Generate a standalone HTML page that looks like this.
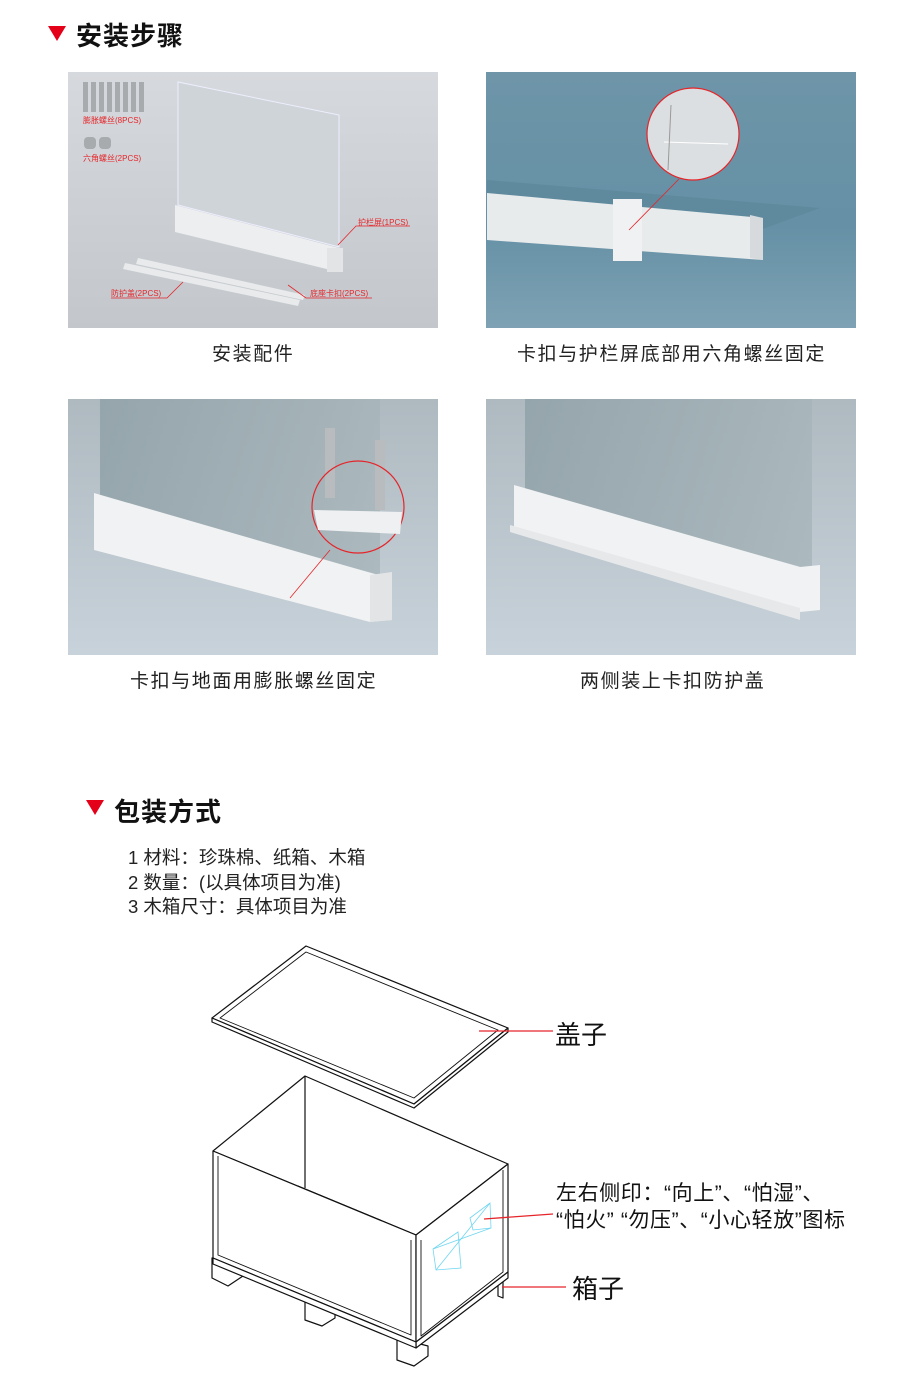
<!DOCTYPE html>
<html><head><meta charset="utf-8"><style>
body{margin:0;width:920px;height:1384px;background:#fff;position:relative;overflow:hidden;font-family:"Liberation Sans","Noto Sans CJK SC",sans-serif;color:#222}
.t{position:absolute;white-space:nowrap}
.h{font-size:26px;font-weight:bold;color:#111;letter-spacing:1px}
.cap{font-size:19px;color:#222;letter-spacing:1.6px}
.tri{position:absolute;width:0;height:0;border-left:9px solid transparent;border-right:9px solid transparent;border-top:15px solid #e5001a}
svg{position:absolute;left:0;top:0}
</style></head><body>
<div class="tri" style="left:48px;top:26px"></div>
<div class="t h" style="left:76px;top:16px">安装步骤</div>

<svg width="920" height="1384" viewBox="0 0 920 1384">
<defs>
<linearGradient id="g1" x1="0" y1="0" x2="0" y2="1"><stop offset="0" stop-color="#d6d9dd"/><stop offset="1" stop-color="#c3c7cb"/></linearGradient>
<linearGradient id="g2" x1="0" y1="0" x2="0" y2="1"><stop offset="0" stop-color="#6e95a8"/><stop offset="0.6" stop-color="#6590a5"/><stop offset="1" stop-color="#7ea2b4"/></linearGradient>
<linearGradient id="g3" x1="0" y1="0" x2="0" y2="1"><stop offset="0" stop-color="#aeb9c0"/><stop offset="1" stop-color="#c8d2da"/></linearGradient>
<linearGradient id="gl" x1="0" y1="0" x2="1" y2="0"><stop offset="0" stop-color="#8ea0a6"/><stop offset="1" stop-color="#a7b5ba"/></linearGradient>
</defs>
<rect x="68" y="72" width="370" height="256" fill="url(#g1)"/>
<polygon points="178,82 339,115 339,247 178,205" fill="#cfd4d8" stroke="#eef" stroke-width="1"/>
<polygon points="175,205 339,248 339,272 175,232" fill="#eceeef"/>
<rect x="327" y="248" width="16" height="24" fill="#e2e4e6"/>
<polygon points="125,263 300,300 298,306 123,269" fill="#e8eaec"/>
<polygon points="138,258 305,295 303,300 136,264" fill="#e8eaec"/>
<g fill="#a8abad"><rect x="83" y="82" width="5" height="30"/><rect x="91" y="82" width="5" height="30"/><rect x="99" y="82" width="5" height="30"/><rect x="107" y="82" width="5" height="30"/><rect x="115" y="82" width="5" height="30"/><rect x="123" y="82" width="5" height="30"/><rect x="131" y="82" width="5" height="30"/><rect x="139" y="82" width="5" height="30"/><rect x="84" y="137" width="12" height="12" rx="4"/><rect x="99" y="137" width="12" height="12" rx="4"/></g>
<g font-size="8" fill="#e5252a" font-family="Liberation Sans,Noto Sans CJK SC,sans-serif"><text x="83" y="123">膨胀螺丝(8PCS)</text><text x="83" y="161">六角螺丝(2PCS)</text><text x="358" y="225">护栏屏(1PCS)</text><text x="111" y="296">防护盖(2PCS)</text><text x="310" y="296">底座卡扣(2PCS)</text></g>
<g stroke="#e5252a" stroke-width="0.8" fill="none"><polyline points="410,226 356,226 338,245"/><polyline points="111,298 167,298 183,282"/><polyline points="372,298 306,298 288,285"/></g>
<rect x="486" y="72" width="370" height="256" fill="url(#g2)"/>
<polygon points="487,180 820,208 760,230 487,198" fill="#5f8a9e"/>
<polygon points="487,193 763,218 763,260 487,240" fill="#e8ebec"/>
<polygon points="750,215 763,218 763,260 750,258" fill="#d6dadc"/>
<rect x="613" y="199" width="29" height="62" fill="#f0f1f2"/>
<circle cx="693" cy="134" r="46" fill="#dcdfe1" stroke="#e5252a" stroke-width="1.2"/>
<line x1="664" y1="142" x2="728" y2="144" stroke="#fff"/>
<line x1="671" y1="105" x2="668" y2="170" stroke="#999"/>
<line x1="679" y1="179" x2="629" y2="230" stroke="#e5252a" stroke-width="0.8"/>
<rect x="68" y="399" width="370" height="256" fill="url(#g3)"/>
<polygon points="100,399 380,399 380,575 100,500" fill="url(#gl)" opacity="0.8"/>
<polygon points="94,493 378,575 392,572 392,620 370,622 94,550" fill="#f1f2f3"/>
<polygon points="370,575 392,572 392,620 370,622" fill="#e2e4e6"/>
<rect x="325" y="428" width="10" height="70" fill="#b9bcbe"/><rect x="375" y="440" width="10" height="70" fill="#b9bcbe"/>
<circle cx="358" cy="507" r="46" fill="none" stroke="#e5252a" stroke-width="1.2"/>
<path d="M314,510 L402,512 L400,534 L318,530Z" fill="#eef0f1"/>
<line x1="330" y1="550" x2="290" y2="598" stroke="#e5252a" stroke-width="0.8"/>
<rect x="486" y="399" width="370" height="256" fill="url(#g3)"/>
<polygon points="525,399 812,399 812,570 525,490" fill="url(#gl)" opacity="0.8"/>
<polygon points="514,485 800,567 820,565 820,610 800,612 514,532" fill="#f1f2f3"/>
<polygon points="510,525 800,608 800,620 510,532" fill="#e6e8ea"/>
</svg>

<div class="t cap" style="left:212px;top:339px">安装配件</div>
<div class="t cap" style="left:517px;top:339px">卡扣与护栏屏底部用六角螺丝固定</div>
<div class="t cap" style="left:130px;top:666px">卡扣与地面用膨胀螺丝固定</div>
<div class="t cap" style="left:580px;top:666px">两侧装上卡扣防护盖</div>

<div class="tri" style="left:86px;top:800px"></div>
<div class="t h" style="left:114px;top:792px">包装方式</div>
<div class="t" style="left:128px;top:846px;font-size:18.5px;line-height:24.5px">1 材料：珍珠棉、纸箱、木箱<br>2 数量：(以具体项目为准)<br>3 木箱尺寸：具体项目为准</div>

<svg width="920" height="1384" viewBox="0 0 920 1384" style="pointer-events:none">
<g fill="#fff" stroke="#111" stroke-width="1.2" stroke-linejoin="round">
<polygon points="212,1018 306,946 508,1028 414,1104"/>
<polygon points="212,1018 212,1022 414,1108 508,1032 508,1028 414,1104"/>
<polygon points="220,1018 306,952 498,1030 414,1098" fill="none" stroke-width="0.9"/>
<polygon points="212,1258 212,1278 228,1286 243,1276 243,1268"/>
<polygon points="305,1298 305,1320 322,1326 335,1318 335,1308"/>
<polygon points="397,1338 397,1360 414,1366 428,1356 428,1346"/>
<polygon points="498,1274 498,1296 503,1298 503,1276"/>
<polygon points="305,1076 508,1164 416,1235 213,1151"/>
<line x1="305" y1="1076" x2="305" y2="1188"/>
<line x1="298" y1="1186" x2="416" y2="1235"/>
<polygon points="213,1151 416,1235 416,1342 213,1258"/>
<polygon points="416,1235 508,1164 508,1272 416,1342"/>
<polygon points="416,1342 416,1348 508,1278 508,1272"/>
<polygon points="213,1258 213,1264 416,1348 416,1342"/>
<polyline points="218,1156 218,1255 411,1335 411,1240" fill="none" stroke-width="0.9"/>
<polyline points="421,1240 421,1336 503,1272 503,1170" fill="none" stroke-width="0.9"/>
</g>
<g stroke="#6fd6f0" stroke-width="0.8" fill="none"><polygon points="433,1249 458,1232 461,1268 436,1270"/><polygon points="470,1218 490,1203 491,1228 473,1230"/><line x1="433" y1="1249" x2="491" y2="1228"/><line x1="436" y1="1270" x2="490" y2="1203"/></g>
<g stroke="#e5252a" stroke-width="1.3"><line x1="479" y1="1031" x2="553" y2="1031"/><line x1="484" y1="1219" x2="553" y2="1214"/><line x1="502" y1="1287" x2="566" y2="1287"/></g>
</svg>
<div class="t" style="left:555px;top:1015px;font-size:26px;color:#111">盖子</div>
<div class="t" style="left:556px;top:1180px;font-size:21px;line-height:27px;color:#111;letter-spacing:0.6px">左右侧印：“向上”、“怕湿”、<br>“怕火” “勿压”、“小心轻放”图标</div>
<div class="t" style="left:572px;top:1269px;font-size:26px;color:#111">箱子</div>
</body></html>
